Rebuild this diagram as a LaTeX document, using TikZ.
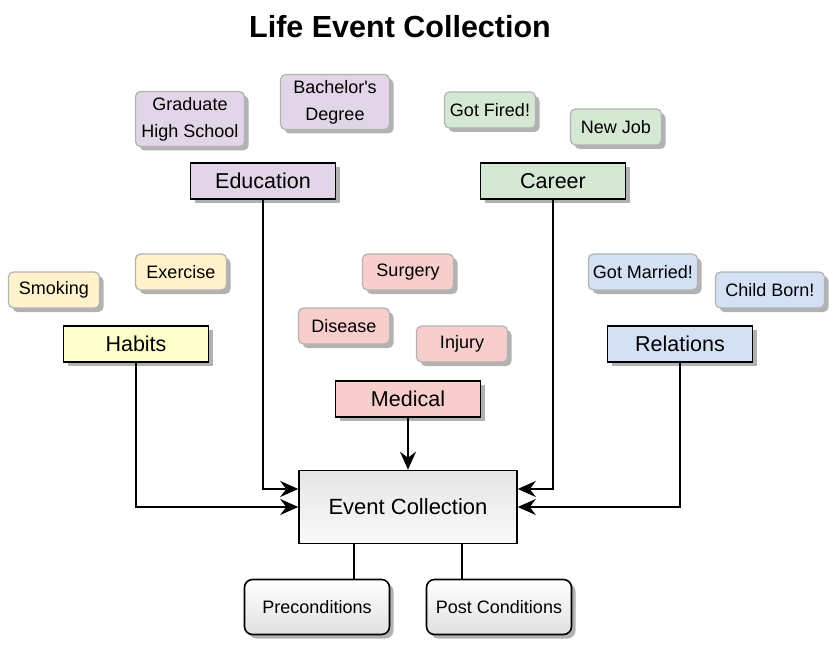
\documentclass[tikz,border=0pt]{standalone}
\usepackage{fontspec}
\setmainfont{Liberation Sans}
\usetikzlibrary{arrows.meta,shadows}
\definecolor{eduFill}{HTML}{E1D5E7}
\definecolor{carFill}{HTML}{D5E8D4}
\definecolor{habFill}{HTML}{FFFFCC}
\definecolor{habLight}{HTML}{FFF2CC}
\definecolor{medFill}{HTML}{F8CECC}
\definecolor{relFill}{HTML}{D4E1F5}
\definecolor{itemLine}{HTML}{B3B3B3}
\tikzset{
    shade/.style={drop shadow={shadow xshift=4pt,shadow yshift=-4pt,fill=black!30,opacity=1}},
    group/.style={draw=black,line width=1.6pt,shade,minimum width=145pt,minimum height=36pt,
        inner sep=0pt,font=\fontsize{21.5}{26}\selectfont},
    item/.style={draw=itemLine,line width=1.2pt,rounded corners=5pt,shade,minimum height=36pt,
        inner sep=0pt,align=center,font=\fontsize{18}{27}\selectfont},
    link/.style={line width=1.6pt,-{Stealth[length=18pt,width=16pt,inset=6pt]}},
    tie/.style={line width=1.6pt}
}
\begin{document}
\begin{tikzpicture}[x=1pt,y=-1pt]
    \useasboundingbox (0,0) rectangle (840,652);
    \node[font=\fontsize{30.5}{34}\selectfont\bfseries] (title) at (400,27) {Life Event Collection};
    % education
    \node[item,fill=eduFill,minimum width=109pt,minimum height=55pt] (grad) at (190,119) {Graduate\\High School};
    \node[item,fill=eduFill,minimum width=109pt,minimum height=55pt] (bach) at (335,102) {Bachelor\textquotesingle s\\Degree};
    \node[group,fill=eduFill] (edu) at (263,181) {Education};
    % career
    \node[item,fill=carFill,minimum width=91pt] (fired) at (490,110) {Got Fired!};
    \node[item,fill=carFill,minimum width=91pt] (job) at (616,127) {New Job};
    \node[group,fill=carFill] (car) at (553,181) {Career};
    % habits
    \node[item,fill=habLight,minimum width=91pt] (smoke) at (54,290) {Smoking};
    \node[item,fill=habLight,minimum width=91pt] (exer) at (181,272) {Exercise};
    \node[group,fill=habFill] (hab) at (136,344) {Habits};
    % medical
    \node[item,fill=medFill,minimum width=91pt] (surg) at (408,272) {Surgery};
    \node[item,fill=medFill,minimum width=91pt] (dis) at (344,326) {Disease};
    \node[item,fill=medFill,minimum width=91pt] (inj) at (462,344) {Injury};
    \node[group,fill=medFill] (med) at (408,399) {Medical};
    % relations
    \node[item,fill=relFill,minimum width=109pt] (marr) at (643,272) {Got Married!};
    \node[item,fill=relFill,minimum width=109pt] (child) at (770,290) {Child Born!};
    \node[group,fill=relFill] (rel) at (680,344) {Relations};
    % collection
    \node[draw=black,line width=1.6pt,top color=black!10,bottom color=black!2,minimum width=218pt,
        minimum height=73pt,inner sep=0pt,font=\fontsize{22}{26}\selectfont] (ec) at (408,507) {Event Collection};
    \node[draw=black,line width=1.6pt,rounded corners=8pt,shade,top color=white,bottom color=black!12,
        minimum width=145pt,minimum height=55pt,inner sep=0pt,font=\fontsize{18}{22}\selectfont] (pre) at (317,607) {Preconditions};
    \node[draw=black,line width=1.6pt,rounded corners=8pt,shade,top color=white,bottom color=black!12,
        minimum width=145pt,minimum height=55pt,inner sep=0pt,font=\fontsize{18}{22}\selectfont] (post) at (499,607) {Post Conditions};
    % connectors
    \draw[link] (hab.south) |- (ec.west);
    \draw[link] (edu.south) |- ([yshift=18pt]ec.west);
    \draw[link] (med.south) -- (ec.north);
    \draw[link] (car.south) |- ([yshift=18pt]ec.east);
    \draw[link] (rel.south) |- (ec.east);
    \draw[tie] ([xshift=-54pt]ec.south) -- ([xshift=-54pt]ec.south |- pre.north);
    \draw[tie] ([xshift=54pt]ec.south) -- ([xshift=54pt]ec.south |- post.north);
\end{tikzpicture}
\end{document}
